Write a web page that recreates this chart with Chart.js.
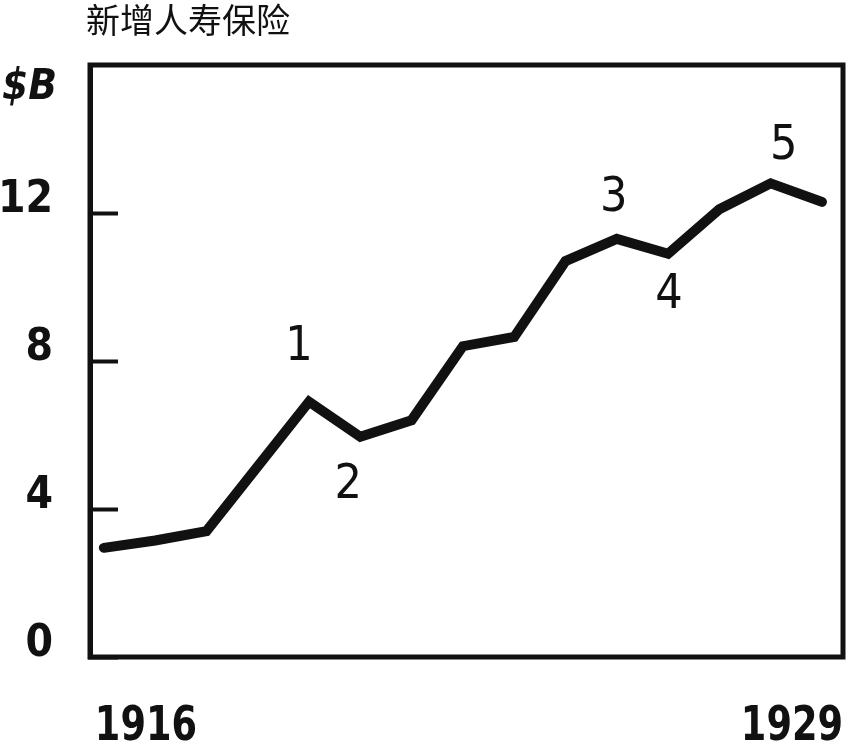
<!DOCTYPE html>
<html>
<head>
<meta charset="utf-8">
<script src="https://cdn.jsdelivr.net/npm/chart.js@4"></script>
<style>
  body { margin: 0; background: #fff; }
  #wrap { width: 851px; height: 749px; position: relative; }
</style>
</head>
<body>
<div id="wrap"><canvas id="chart1"></canvas></div>
<script>
// new life insurance written, billions of dollars
const years = [1916, 1917, 1918, 1919, 1920, 1921, 1922, 1923, 1924, 1925, 1926, 1927, 1928, 1929, 1930];
const insurance = [2.95, 3.15, 3.4, 5.15, 6.9, 5.95, 6.4, 8.4, 8.65, 10.7, 11.3, 10.9, 12.1, 12.8, 12.3];
const yTicks = [0, 4, 8, 12];
const xLabels = ['1916', '1929'];
const markLabels = ['1', '2', '3', '4', '5'];
const markYears = [1920, 1921, 1926, 1927, 1929];

const numFont = "'DejaVu Sans Condensed', 'DejaVu Sans', sans-serif";

// frame, title, unit, year labels and cycle numbers
const extras = {
    id: 'extras',
    afterDraw(chart) {
        const c = chart.ctx;
        const a = chart.chartArea;
        const xs = chart.scales.x;
        const pts = chart.getDatasetMeta(0).data;
        c.save();
        c.strokeStyle = '#111';
        c.lineWidth = 5;
        c.strokeRect(a.left, a.top, a.right - a.left, a.bottom - a.top);

        c.fillStyle = '#111';
        c.font = "34px 'Noto Sans CJK SC'";
        c.textAlign = 'left';
        c.textBaseline = 'middle';
        c.fillText('新增人寿保险', 86, 20);

        c.font = "italic bold 42px " + numFont;
        c.textBaseline = 'alphabetic';
        c.fillText('$B', 2, 99);

        c.font = "bold 48px " + numFont;
        c.textAlign = 'left';
        c.save();
        c.translate(xs.getPixelForValue(1916) - 9, 740);
        c.scale(0.85, 1);
        c.fillText(xLabels[0], 0, 0);
        c.restore();
        c.save();
        c.translate(a.right, 740);
        c.scale(0.85, 1);
        c.textAlign = 'right';
        c.fillText(xLabels[1], 0, 0);
        c.restore();

        const dx = [-10, -12, -3, 1, 13];
        const dy = [-54, 49, -40, 42, -37];
        c.font = "48px " + numFont;
        c.textAlign = 'center';
        c.textBaseline = 'middle';
        markLabels.forEach((t, i) => {
            const p = pts[years.indexOf(markYears[i])];
            c.fillText(t, p.x + dx[i], p.y + dy[i]);
        });
        c.restore();
    }
};

const ctx1 = document.getElementById('chart1');
const myChart = new Chart(ctx1, {
    type: 'line',
    data: {
        datasets: [{
            data: years.map((y, i) => ({ x: y, y: insurance[i] })),
            borderColor: '#111',
            borderWidth: 10,
            borderCapStyle: 'round',
            borderJoinStyle: 'miter',
            pointRadius: 0,
            tension: 0
        }]
    },
    options: {
        responsive: true,
        maintainAspectRatio: false,
        animation: false,
        layout: {
            padding: { top: 65, right: 8, left: 0, bottom: 0 }
        },
        scales: {
            x: {
                type: 'linear',
                min: 1915.73,
                max: 1930.41,
                grid: { display: false },
                border: { display: false },
                ticks: { display: false },
                afterFit: s => { s.height = 92; }
            },
            y: {
                min: 0,
                max: 16,
                afterBuildTicks: s => { s.ticks = yTicks.map(v => ({ value: v })); },
                grid: {
                    drawOnChartArea: false,
                    drawTicks: true,
                    tickLength: -28,
                    tickWidth: 4,
                    tickColor: '#111'
                },
                border: { display: true, color: '#111', width: 5 },
                ticks: {
                    color: '#111',
                    padding: 65,
                    labelOffset: -12,
                    font: { family: numFont, size: 44, weight: 'bold' }
                },
                afterFit: s => {
                    s.width = 90;
                    s.paddingTop = 0;
                    s.paddingBottom = 0;
                }
            }
        },
        plugins: {
            legend: { display: false },
            tooltip: { enabled: false },
            title: { display: false }
        }
    },
    plugins: [extras]
});
</script>
</body>
</html>
